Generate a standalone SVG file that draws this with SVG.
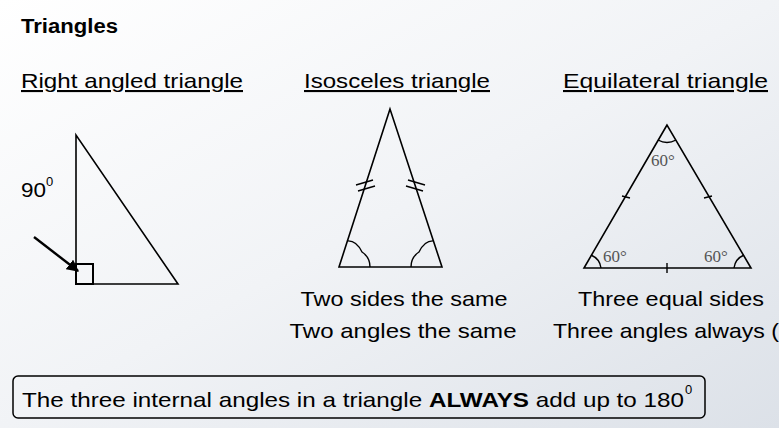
<svg xmlns="http://www.w3.org/2000/svg" width="779" height="428" viewBox="0 0 779 428">
<defs>
<linearGradient id="bg" x1="0" y1="0" x2="1" y2="1">
<stop offset="0" stop-color="#ffffff"/>
<stop offset="0.5" stop-color="#f1f3f6"/>
<stop offset="1" stop-color="#dce1e8"/>
</linearGradient>
<marker id="arr" viewBox="0 0 10 10" refX="9" refY="5" markerWidth="5" markerHeight="5" orient="auto" markerUnits="strokeWidth">
<path d="M0,0 L10,5 L0,10 z" fill="#000"/>
</marker>
<style>
.t{font-family:"Liberation Sans",Arial,sans-serif;fill:#000;}
.h{font-size:21px;text-decoration:underline;}
.b{font-size:21px;}
.ln{fill:none;stroke:#000;stroke-width:1.6;stroke-linejoin:miter;}
.tk{fill:none;stroke:#000;stroke-width:1.4;}
.g{font-family:"Liberation Serif","Times New Roman",serif;font-size:17px;fill:#555;}
</style>
</defs>
<rect width="779" height="428" fill="url(#bg)"/>
<text class="t" x="21" y="33" font-size="20" font-weight="bold" textLength="97" lengthAdjust="spacingAndGlyphs">Triangles</text>
<g id="right">
<text class="t h" x="21" y="88" textLength="222" lengthAdjust="spacingAndGlyphs">Right angled triangle</text>
<polygon class="ln" points="76,135 76,284 178,284"/>
<rect x="76" y="264" width="17" height="20" fill="none" stroke="#000" stroke-width="2"/>
<text class="t" x="21" y="197" font-size="21" textLength="25" lengthAdjust="spacingAndGlyphs">90</text>
<text class="t" x="46" y="186" font-size="13">0</text>
<line x1="34" y1="237" x2="78" y2="271" stroke="#000" stroke-width="2.4" marker-end="url(#arr)"/>
</g>
<g id="isosceles">
<text class="t h" x="304" y="88" textLength="186" lengthAdjust="spacingAndGlyphs">Isosceles triangle</text>
<polygon class="ln" points="390,109 339,267 442,267"/>
<path class="tk" d="M356,185 L373,180 M358,191 L375,186"/>
<path class="tk" d="M408,180 L425,185 M406,186 L423,191"/>
<path class="tk" d="M347,241 C356,240 360,248 362,252 C368,256 370,260 370,267"/>
<path class="tk" d="M434,241 C425,240 421,248 419,252 C413,256 411,260 411,267"/>
<text class="t b" x="404" y="306" text-anchor="middle" textLength="207" lengthAdjust="spacingAndGlyphs">Two sides the same</text>
<text class="t b" x="403" y="338" text-anchor="middle" textLength="227" lengthAdjust="spacingAndGlyphs">Two angles the same</text>
</g>
<g id="equilateral">
<text class="t h" x="563" y="88" textLength="205" lengthAdjust="spacingAndGlyphs">Equilateral triangle</text>
<polygon class="ln" points="667,125 584,268 751,268"/>
<path class="tk" d="M658,140 Q667,145 676,140"/>
<path class="tk" d="M591,255 Q600,259 601,268"/>
<path class="tk" d="M744,255 Q735,259 734,268"/>
<path class="tk" d="M622,196 L630,198 M704,198 L712,196 M667,263 L667,273"/>
<text class="g" x="651" y="166">60°</text>
<text class="g" x="603" y="262">60°</text>
<text class="g" x="704" y="262">60°</text>
<text class="t b" x="671" y="306" text-anchor="middle" textLength="186" lengthAdjust="spacingAndGlyphs">Three equal sides</text>
<text class="t b" x="553" y="338" textLength="226" lengthAdjust="spacingAndGlyphs">Three angles always (</text>
</g>
<g id="note">
<rect x="13" y="376" width="692" height="42" rx="5" fill="none" stroke="#000" stroke-width="1.5"/>
<text class="t b" x="22" y="407" textLength="662" lengthAdjust="spacingAndGlyphs">The three internal angles in a triangle <tspan font-weight="bold">ALWAYS</tspan> add up to 180</text>
<text class="t" x="685" y="394" font-size="13">0</text>
</g>
</svg>
